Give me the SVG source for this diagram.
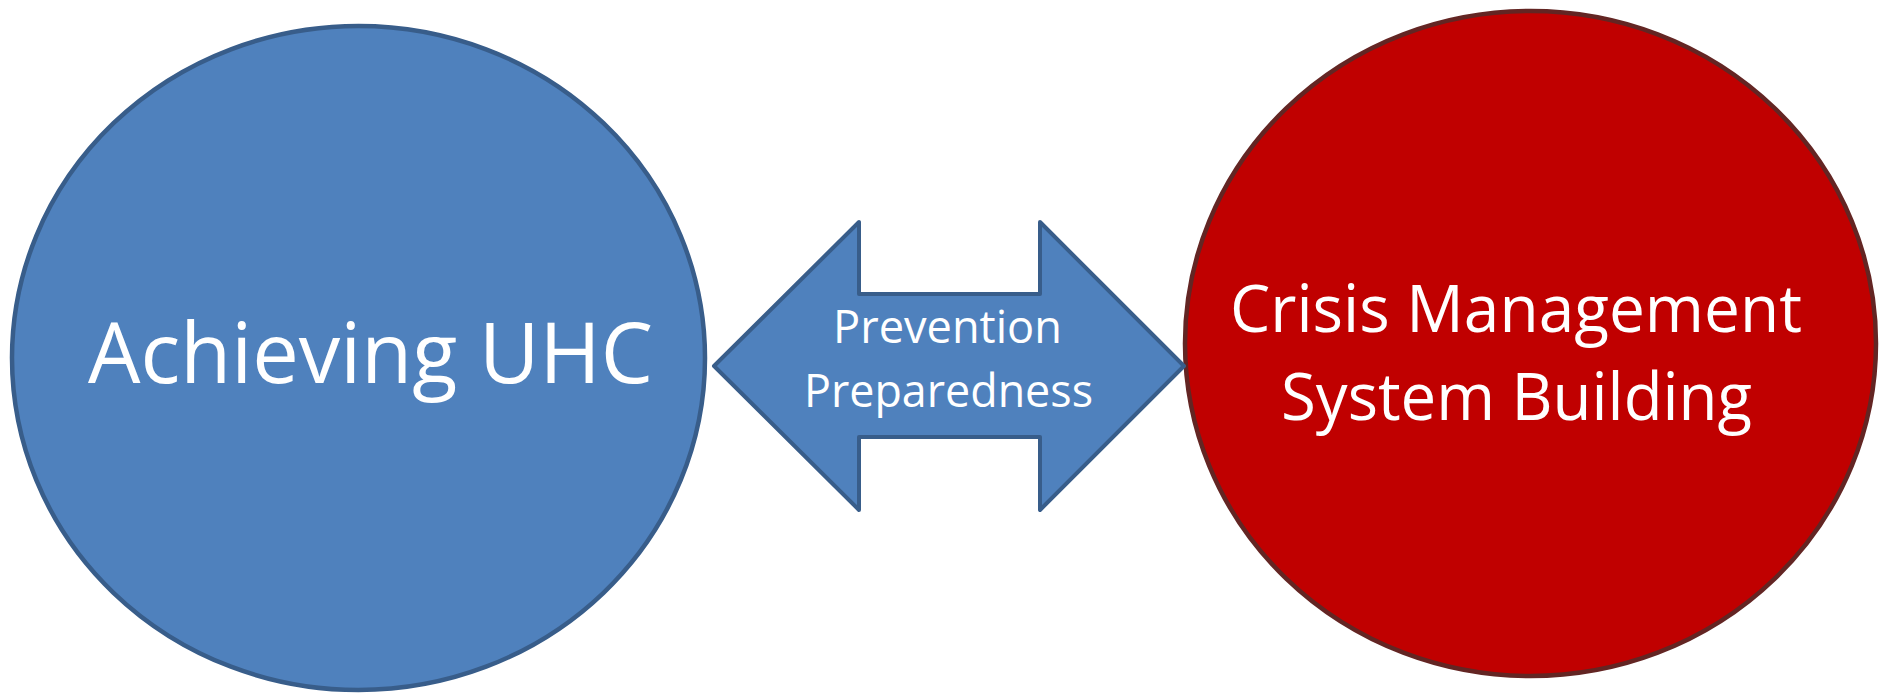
<svg xmlns="http://www.w3.org/2000/svg" width="1879" height="693" viewBox="0 0 1879 693">
  <style>
    .blue { fill: #4F81BD; stroke: #385D8A; stroke-width: 4.5; }
    .red { fill: #C00000; stroke: #632523; stroke-width: 4.5; }
    .arrow { fill: #4F81BD; stroke: #385D8A; stroke-width: 4; stroke-linejoin: round; }
    .lbl { fill: #FFFFFF; font-family: "Open Sans", "Noto Sans", "Liberation Sans", sans-serif; text-anchor: middle; }
  </style>
  <rect width="1879" height="693" fill="#FFFFFF"/>
  <g id="node-uhc">
    <ellipse class="blue" cx="358.5" cy="358" rx="346.5" ry="332"/>
    <text class="lbl" x="370.5" y="383" font-size="84" textLength="565" lengthAdjust="spacingAndGlyphs">Achieving UHC</text>
  </g>
  <g id="node-crisis">
    <ellipse class="red" cx="1530.5" cy="343.5" rx="345.5" ry="332.5"/>
    <text class="lbl" x="1516" y="332" font-size="66" textLength="572" lengthAdjust="spacingAndGlyphs">Crisis Management</text>
    <text class="lbl" x="1516.5" y="420" font-size="66" textLength="471" lengthAdjust="spacingAndGlyphs">System Building</text>
  </g>
  <g id="connectors">
    <g id="arrow-prevention">
      <polygon class="arrow" points="714,366 859,222 859,294 1040,294 1040,222 1184,366 1040,510 1040,437 859,437 859,510"/>
      <text class="lbl" x="947.5" y="343" font-size="45" textLength="229" lengthAdjust="spacingAndGlyphs">Prevention</text>
      <text class="lbl" x="948.5" y="407" font-size="45" textLength="289" lengthAdjust="spacingAndGlyphs">Preparedness</text>
    </g>
  </g>
</svg>
